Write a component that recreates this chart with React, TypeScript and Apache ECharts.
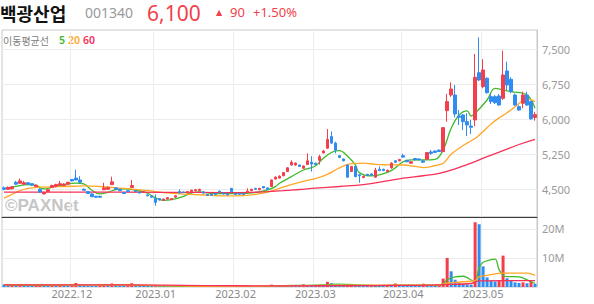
import React, { useEffect, useRef } from "react";
import * as echarts from "echarts";

// ---------- categories (KRX trading days) ----------
const FIRST_DAY = "2022-11-08";
const LAST_DAY = "2023-05-22";
const HOLIDAYS = ["2022-12-30", "2023-01-23", "2023-01-24", "2023-03-01", "2023-05-01", "2023-05-05"];

function buildDates(): string[] {
  const out: string[] = [];
  const d = new Date(FIRST_DAY + "T00:00:00Z");
  const end = new Date(LAST_DAY + "T00:00:00Z");
  while (d <= end) {
    const dow = d.getUTCDay();
    const iso = d.toISOString().slice(0, 10);
    if (dow !== 0 && dow !== 6 && !HOLIDAYS.includes(iso)) out.push(iso.replace(/-/g, "."));
    d.setUTCDate(d.getUTCDate() + 1);
  }
  return out;
}
const dates = buildDates();

// ---------- price data (KRW) ----------
const opens = [
  4530, 4500, 4510, 4650, 4630, 4610, 4640, 4620, 4560, 4500,
  4400, 4450, 4540, 4560, 4590, 4580, 4610, 4710, 4740, 4700,
  4500, 4450, 4400, 4350, 4350, 4490, 4500, 4600, 4530, 4500,
  4430, 4470, 4540, 4470, 4440, 4430, 4380, 4350, 4300, 4300,
  4260, 4290, 4280, 4330, 4450, 4440, 4420, 4450, 4470, 4470,
  4440, 4390, 4390, 4410, 4460, 4420, 4400, 4520, 4410, 4405,
  4410, 4430, 4470, 4520, 4490, 4560, 4530, 4560, 4720, 4740,
  4790, 4880, 5020, 5020, 5020, 4950, 5030, 5080, 5060, 5120,
  5280, 5380, 5630, 5490, 5220, 5150, 5020, 4880, 4990, 4810,
  4750, 4820, 4830, 4760, 4930, 4930, 4880, 4960, 5110, 5110,
  5220, 5120, 5060, 5160, 5150, 5110, 5143, 5300, 5320, 5340,
  5307, 6186, 6521, 6521, 6071, 6093, 5950, 5857, 5986, 7000,
  6700, 6879, 6486, 6486, 6500, 6450, 7036, 6857, 6521, 6271,
  6343, 6521, 6379, 6040,
];
const closes = [
  4500, 4540, 4550, 4610, 4680, 4640, 4610, 4590, 4590, 4440,
  4430, 4490, 4580, 4600, 4620, 4610, 4650, 4680, 4700, 4650,
  4480, 4410, 4340, 4330, 4330, 4530, 4540, 4660, 4500, 4470,
  4410, 4450, 4580, 4450, 4420, 4450, 4360, 4330, 4220, 4270,
  4290, 4320, 4300, 4360, 4420, 4430, 4450, 4480, 4490, 4500,
  4420, 4370, 4370, 4390, 4440, 4400, 4380, 4450, 4390, 4395,
  4390, 4460, 4500, 4500, 4520, 4530, 4500, 4700, 4760, 4780,
  4860, 4960, 5080, 5060, 4990, 5000, 5110, 5040, 5030, 5200,
  5320, 5570, 5490, 5340, 5180, 5110, 4760, 4990, 4770, 4790,
  4780, 4800, 4800, 4910, 4900, 4900, 4910, 5060, 5080, 5140,
  5190, 5090, 5090, 5130, 5130, 5080, 5286, 5270, 5290, 5310,
  5821, 6379, 6650, 6114, 6043, 5950, 5879, 5829, 6900, 6843,
  7057, 6571, 6379, 6357, 6307, 6950, 6736, 6593, 6307, 6200,
  6521, 6307, 6010, 6100,
];
const lows = [
  4480, 4490, 4500, 4590, 4620, 4600, 4590, 4570, 4550, 4420,
  4390, 4440, 4530, 4540, 4570, 4570, 4600, 4670, 4690, 4630,
  4470, 4400, 4330, 4320, 4320, 4480, 4490, 4590, 4490, 4460,
  4400, 4440, 4530, 4440, 4410, 4420, 4350, 4320, 4150, 4260,
  4250, 4280, 4270, 4320, 4410, 4420, 4410, 4440, 4460, 4460,
  4400, 4360, 4360, 4380, 4430, 4390, 4370, 4440, 4380, 4385,
  4380, 4420, 4460, 4490, 4480, 4520, 4490, 4550, 4710, 4730,
  4780, 4870, 5010, 5010, 4980, 4940, 5020, 4880, 5020, 5030,
  5270, 5370, 5470, 5270, 5170, 5100, 4750, 4870, 4760, 4640,
  4740, 4790, 4790, 4750, 4890, 4890, 4870, 4940, 5070, 5100,
  5180, 5080, 5050, 5120, 5120, 5070, 5140, 5240, 5280, 5300,
  5300, 5950, 6480, 6043, 5879, 5771, 5643, 5686, 5850, 6820,
  6664, 6550, 6329, 6330, 6290, 6414, 6629, 6560, 6290, 6180,
  6236, 6290, 5990, 5970,
];
const highs = [
  4560, 4560, 4570, 4680, 4730, 4680, 4650, 4630, 4600, 4520,
  4450, 4500, 4600, 4620, 4680, 4630, 4660, 4720, 4920, 4780,
  4520, 4460, 4410, 4360, 4360, 4640, 4560, 4770, 4540, 4510,
  4440, 4480, 4700, 4480, 4450, 4460, 4390, 4360, 4390, 4310,
  4300, 4330, 4310, 4370, 4500, 4450, 4460, 4490, 4510, 4510,
  4460, 4400, 4400, 4420, 4470, 4430, 4410, 4530, 4420, 4415,
  4420, 4520, 4510, 4530, 4530, 4570, 4540, 4710, 4780, 4800,
  4870, 4970, 5120, 5080, 5030, 5010, 5270, 5210, 5070, 5240,
  5340, 5790, 5740, 5520, 5230, 5160, 5030, 5000, 5000, 4830,
  4790, 4830, 4840, 4960, 4990, 4940, 4920, 5080, 5120, 5150,
  5260, 5130, 5100, 5170, 5160, 5120, 5300, 5340, 5330, 5350,
  5830, 6543, 6793, 6736, 6200, 6107, 6129, 5986, 7400, 7757,
  7286, 6900, 6557, 6520, 6540, 7471, 7236, 6900, 6550, 6300,
  6593, 6593, 6400, 6160,
];

// moving averages: [day index, value]
const ma5Points = [
  [0, 4514], [3, 4564], [6, 4600], [8, 4586], [10, 4507], [12, 4543], [15, 4600], [18, 4632], [20, 4614],
  [22, 4480], [24, 4400], [26, 4436], [28, 4493], [30, 4507], [33, 4479], [36, 4415], [38, 4314], [40, 4264],
  [42, 4279], [45, 4350], [47, 4421], [49, 4443], [52, 4410], [56, 4405], [60, 4410], [62, 4425], [64, 4443],
  [66, 4486], [68, 4557], [69, 4629], [72, 4771], [75, 4914], [78, 5000], [80, 5164], [83, 5321], [84, 5329],
  [86, 5214], [88, 5021], [89, 4857], [92, 4786], [94, 4807], [97, 4900], [100, 5093], [102, 5129], [105, 5129],
  [108, 5143], [110, 5343], [112, 5807], [114, 6093], [116, 6179], [117, 6071], [118, 6129], [121, 6414],
  [123, 6664], [125, 6629], [127, 6593], [131, 6521], [133, 6236],
];
const ma20Points = [
  [0, 4310], [2, 4390], [4, 4470], [6, 4520], [9, 4545], [13, 4555], [17, 4565], [20, 4575], [24, 4560],
  [28, 4530], [32, 4505], [36, 4470], [40, 4430], [44, 4400], [48, 4385], [52, 4370], [56, 4360], [60, 4365],
  [63, 4390], [66, 4440], [69, 4520], [72, 4600], [75, 4670], [78, 4730], [81, 4820], [84, 4960], [87, 5050],
  [90, 5060], [93, 5035], [96, 5025], [100, 5020], [103, 4990], [105, 4965], [108, 5010], [110, 5060],
  [112, 5250], [114, 5380], [116, 5490], [118, 5590], [120, 5740], [122, 5900], [124, 6030], [126, 6140],
  [128, 6270], [130, 6410], [131, 6440], [133, 6380],
];
const ma60Points = [
  [0, 4440], [20, 4440], [40, 4435], [55, 4430], [62, 4435], [66, 4450], [70, 4470], [74, 4495], [78, 4525],
  [84, 4560], [90, 4600], [96, 4680], [100, 4740], [105, 4790], [109, 4840], [113, 4940], [117, 5060],
  [121, 5200], [125, 5330], [129, 5460], [133, 5570],
];

// ---------- volume (millions of shares) ----------
const volumes = [
  0.9, 0.7, 0.8, 0.6, 1.0, 0.7, 0.6, 0.5, 0.6, 0.7, 0.5, 0.5, 0.6, 0.6, 0.7, 0.6, 0.5,
  0.6, 1.4, 0.8, 0.6, 0.5, 0.5, 0.4, 0.5, 0.7, 0.6, 1.2, 0.6, 0.5, 0.4, 0.5, 1.3, 0.5, 0.4, 0.4, 0.4, 0.3,
  0.5, 0.3, 0.3, 0.2, 0.2, 0.2, 0.3, 0.2, 0.2, 0.2, 0.2, 0.2, 0.2, 0.2, 0.1, 0.1, 0.2, 0.1, 0.1, 0.6,
  0.2, 0.1, 0.1, 0.2, 0.2, 0.1, 0.2, 0.2, 0.2,
  0.8, 0.5, 0.4, 0.6, 0.5, 0.5, 0.4, 0.4, 0.9, 0.5,
  0.5, 0.5, 0.6, 0.6, 1.8, 1.3, 0.7, 0.5, 0.5, 0.6,
  1.0, 0.5, 0.5, 0.4, 0.4, 0.5, 0.5, 0.4, 0.4, 0.5, 0.4,
  1.2, 0.6, 0.5, 0.5, 0.5, 0.5, 0.4, 1.1, 0.6, 0.5, 0.5, 0.6,
  2.9, 10.0, 5.4, 2.5, 1.3, 1.0, 0.9, 0.8, 22.3, 21.6, 7.1, 3.3, 2.2, 1.9, 2.3, 10.8,
  3.0, 2.4, 1.6, 1.4, 1.6, 1.3, 1.9, 1.1,
];
const vma5Points = [
  [0, 0.75], [8, 0.6], [17, 0.7], [20, 0.8], [26, 0.7], [30, 0.75], [35, 0.5], [38, 0.45], [42, 0.3], [50, 0.2],
  [57, 0.3], [62, 0.2], [66, 0.3], [70, 0.5], [76, 0.55], [80, 0.7], [83, 1.0], [86, 0.9], [89, 0.7], [93, 0.5],
  [98, 0.65], [104, 0.6], [109, 0.6], [110, 1.1], [111, 2.5], [113, 3.5], [115, 3.7], [116, 3.2], [117, 2.4],
  [118, 2.0], [119, 6.5], [120, 8.5], [122, 9.4], [123, 9.6], [124, 6.0], [125, 4.0], [126, 3.6], [129, 3.5],
  [131, 2.5], [132, 1.8], [133, 1.2],
];
const vma20Points = [
  [0, 0.8], [15, 0.7], [30, 0.7], [40, 0.5], [50, 0.25], [60, 0.2], [66, 0.3], [75, 0.5], [85, 0.6], [95, 0.6],
  [105, 0.6], [109, 0.7], [111, 1.3], [115, 1.8], [118, 2.2], [119, 3.5], [121, 4.0], [125, 4.8], [131, 4.8],
  [133, 4.0],
];
const vma60Points = [
  [0, 0.7], [30, 0.7], [50, 0.5], [70, 0.4], [90, 0.5], [105, 0.6], [110, 0.8], [117, 1.2], [119, 2.1],
  [125, 2.2], [133, 2.2],
];

const priceTicks = [4500, 5250, 6000, 6750, 7500];
const volumeTicks = [10, 20];

// ---------- styles ----------
const RED = "#f23f4b";
const BLUE = "#2f8cf0";
const GREEN = "#3fba2c";
const ORANGE = "#ffa726";
const PINK = "#f7305a";
const GRID_LINE = "#ececec";
const FONT = "'Noto Sans', 'Noto Sans CJK KR', sans-serif";
const KFONT = "'Noto Sans CJK KR', 'Noto Sans', sans-serif";

const isMonthStart = (i: number) => i > 0 && dates[i].slice(0, 7) !== dates[i - 1].slice(0, 7);

function buildOption(): any {
  const candleData = dates.map((_, i) => [opens[i], closes[i], lows[i], highs[i]]);
  const volData = volumes.map((v, i) => ({
    value: v,
    itemStyle: { color: i > 0 && v > volumes[i - 1] ? RED : BLUE },
  }));
  const maLine = (name: string, data: number[][], color: string, xi: number, yi: number) => ({
    name,
    type: "line",
    xAxisIndex: xi,
    yAxisIndex: yi,
    data,
    smooth: 0.4,
    showSymbol: false,
    symbol: "none",
    lineStyle: { color, width: 1.3 },
    z: 3,
    silent: true,
  });
  const txt = (text: string, x: number, y: number, fontSize: number, fill: string, extra: any = {}) => ({
    type: "text",
    x,
    y,
    silent: true,
    style: { text, fontSize, fill, fontFamily: FONT, verticalAlign: "middle", align: "left", ...extra },
  });

  return {
    animation: false,
    backgroundColor: "#ffffff",
    textStyle: { fontFamily: FONT },
    grid: [
      { left: 2, right: 57, top: 30, height: 187, show: true, borderColor: "#c8c8c8", borderWidth: 1 },
      { left: 2, right: 57, top: 217, height: 70, show: true, borderColor: "#c8c8c8", borderWidth: 1 },
    ],
    xAxis: [
      {
        type: "category",
        gridIndex: 0,
        data: dates,
        boundaryGap: true,
        axisLine: { show: true, lineStyle: { color: "#3a3a3a", width: 1 } },
        axisTick: { show: false },
        axisLabel: { show: false },
        splitLine: { show: true, interval: isMonthStart, lineStyle: { color: GRID_LINE } },
      },
      {
        type: "category",
        gridIndex: 1,
        data: dates,
        boundaryGap: true,
        axisLine: { show: false },
        axisTick: { show: false },
        axisLabel: {
          interval: isMonthStart,
          formatter: (v: string) => v.slice(0, 7),
          color: "#8a8a8a",
          fontSize: 11,
          margin: 1,
          fontFamily: FONT,
        },
        splitLine: { show: true, interval: isMonthStart, lineStyle: { color: GRID_LINE } },
      },
    ],
    yAxis: [
      {
        type: "value",
        gridIndex: 0,
        position: "right",
        min: 3906,
        max: 7914,
        axisLine: { show: true, lineStyle: { color: "#c8c8c8" } },
        axisTick: { show: false, customValues: priceTicks },
        axisLabel: {
          customValues: priceTicks,
          formatter: (v: number) => v.toLocaleString("en-US"),
          color: "#9a9a9a",
          fontSize: 11,
          margin: 5,
          fontFamily: FONT,
        },
        splitLine: { show: true, lineStyle: { color: GRID_LINE } },
      },
      {
        type: "value",
        gridIndex: 1,
        position: "right",
        min: 0,
        max: 24.1,
        axisLine: { show: true, lineStyle: { color: "#c8c8c8" } },
        axisTick: { show: false, customValues: volumeTicks },
        axisLabel: {
          customValues: volumeTicks,
          formatter: (v: number) => v + "M",
          color: "#9a9a9a",
          fontSize: 11,
          margin: 5,
          fontFamily: FONT,
        },
        splitLine: { show: true, lineStyle: { color: GRID_LINE } },
      },
    ],
    series: [
      {
        name: "price",
        type: "candlestick",
        xAxisIndex: 0,
        yAxisIndex: 0,
        data: candleData,
        barWidth: 3,
        itemStyle: { color: RED, color0: BLUE, borderColor: RED, borderColor0: BLUE, borderWidth: 1 },
        z: 4,
        silent: true,
      },
      maLine("MA5", ma5Points, GREEN, 0, 0),
      maLine("MA20", ma20Points, ORANGE, 0, 0),
      maLine("MA60", ma60Points, PINK, 0, 0),
      {
        name: "volume",
        type: "bar",
        xAxisIndex: 1,
        yAxisIndex: 1,
        data: volData,
        barWidth: 3,
        z: 2,
        silent: true,
      },
      maLine("VMA5", vma5Points, GREEN, 1, 1),
      maLine("VMA20", vma20Points, ORANGE, 1, 1),
      maLine("VMA60", vma60Points, PINK, 1, 1),
    ],
    graphic: [
      txt("©PAXNet", 5, 205.5, 17, "#c6c6c6", { fontWeight: "bold", fontFamily: "'Liberation Sans', Arial, sans-serif" }),
      txt("백광산업", 0, 12.5, 18, "#111111", { fontWeight: "bold", fontFamily: KFONT }),
      txt("001340", 85, 12, 14, "#9a9a9a"),
      txt("6,100", 147, 12.5, 21, RED),
      txt("▲", 216, 12, 8, RED, { fontFamily: "'DejaVu Sans', sans-serif" }),
      txt("90", 230, 12, 13, RED),
      txt("+1.50%", 253, 12, 13, RED),
      txt("이동평균선", 3, 40, 10, "#808080", { fontFamily: KFONT }),
      txt("5", 59, 40, 10.5, GREEN, { fontWeight: 600 }),
      txt("20", 68, 40, 10.5, ORANGE, { fontWeight: 600 }),
      txt("60", 83, 40, 10.5, PINK, { fontWeight: 600 }),
    ],
  };
}

export default function App() {
  const ref = useRef<HTMLDivElement>(null);
  useEffect(() => {
    if (!ref.current) return;
    const chart = echarts.init(ref.current, null, { renderer: "svg", width: 594, height: 304 });
    chart.setOption(buildOption());
    return () => chart.dispose();
  }, []);
  return (
    <div
      ref={ref}
      style={{ position: "fixed", left: 0, top: 0, width: 594, height: 304, background: "#ffffff" }}
    />
  );
}
